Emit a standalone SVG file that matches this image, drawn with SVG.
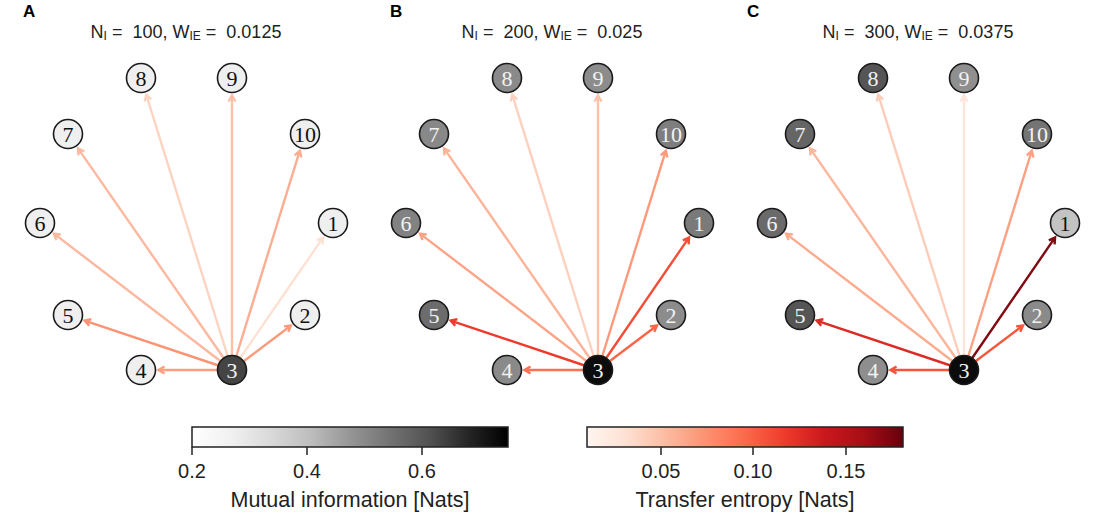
<svg xmlns="http://www.w3.org/2000/svg" width="1107" height="525" viewBox="0 0 1107 525">
<style>
.ttl{font-family:"Liberation Sans",Arial,sans-serif;font-size:18px;fill:#222;}
.pl{font-family:"Liberation Sans",Arial,sans-serif;font-size:17px;font-weight:bold;fill:#000;}
.node circle{stroke:#1a1a1a;stroke-width:1.6;}
.node text{font-family:"Liberation Serif","Times New Roman",serif;font-size:22px;text-anchor:middle;}
.lt text{fill:#111;}
.dk text{fill:#f2f2f2;}
.edges path{fill:none;stroke-width:2.4;stroke-linejoin:miter;}
.cb{font-family:"Liberation Sans",Arial,sans-serif;font-size:20px;fill:#222;text-anchor:middle;}
.cbl{font-family:"Liberation Sans",Arial,sans-serif;font-size:21.5px;fill:#222;text-anchor:middle;}
.tick{stroke:#222;stroke-width:1.5;}
</style>
<defs>
<linearGradient id="greys" x1="0" y1="0" x2="1" y2="0">
<stop offset="0" stop-color="#ffffff"/>
<stop offset="0.125" stop-color="#f0f0f0"/>
<stop offset="0.25" stop-color="#d9d9d9"/>
<stop offset="0.375" stop-color="#bdbdbd"/>
<stop offset="0.5" stop-color="#969696"/>
<stop offset="0.625" stop-color="#737373"/>
<stop offset="0.75" stop-color="#525252"/>
<stop offset="0.875" stop-color="#252525"/>
<stop offset="1" stop-color="#000000"/>
</linearGradient>
<linearGradient id="reds" x1="0" y1="0" x2="1" y2="0">
<stop offset="0" stop-color="#fff5f0"/>
<stop offset="0.125" stop-color="#fee0d2"/>
<stop offset="0.25" stop-color="#fcbba1"/>
<stop offset="0.375" stop-color="#fc9272"/>
<stop offset="0.5" stop-color="#fb6a4a"/>
<stop offset="0.625" stop-color="#ef3b2c"/>
<stop offset="0.75" stop-color="#cb181d"/>
<stop offset="0.875" stop-color="#a50f15"/>
<stop offset="1" stop-color="#67000d"/>
</linearGradient>
</defs>
<rect width="1107" height="525" fill="#ffffff"/>

<!-- Panel A -->
<g id="panelA">
<text class="pl" x="23" y="17">A</text>
<text class="ttl" x="186" y="38" text-anchor="middle">N<tspan font-size="12" dy="2">I</tspan><tspan dy="-2"> =&#160; 100, W</tspan><tspan font-size="12" dy="2">IE</tspan><tspan dy="-2"> =&#160; 0.0125</tspan></text>
<g id="A-edges" class="edges">
<path stroke="#fee1d3" d="M232 370 L323.1 237.4 M322.6 244.4 L323.1 237.4 L316.8 240.4"/>
<path stroke="#fdd4c2" d="M232 370 L146.2 94.7 M151.3 99.4 L146.2 94.7 L144.7 101.5"/>
<path stroke="#fcc0a7" d="M232 370 L232 95.5 M235.5 101.5 L232 95.5 L228.5 101.5"/>
<path stroke="#fcb99f" d="M232 370 L78 148.4 M84.3 151.3 L78 148.4 L78.5 155.3"/>
<path stroke="#fcb89e" d="M232 370 L53.9 233.6 M60.8 234.5 L53.9 233.6 L56.5 240.1"/>
<path stroke="#fcae92" d="M232 370 L299.8 150.7 M301.4 157.5 L299.8 150.7 L294.7 155.4"/>
<path stroke="#fc9b7c" d="M232 370 L291 325.5 M288.3 331.9 L291 325.5 L284.1 326.4"/>
<path stroke="#fc9f81" d="M232 370 L158.5 370 M164.5 366.5 L158.5 370 L164.5 373.5"/>
<path stroke="#fc9373" d="M232 370 L84.6 320.6 M91.4 319.2 L84.6 320.6 L89.2 325.8"/>
</g>
<g id="A-n1" class="node lt"><circle cx="333" cy="223" r="14.5" fill="#efefef"/><text x="333" y="230.5">1</text></g>
<g id="A-n2" class="node lt"><circle cx="305" cy="315" r="14.5" fill="#efefef"/><text x="305" y="322.5">2</text></g>
<g id="A-n3" class="node dk"><circle cx="232" cy="370" r="14.5" fill="#444444"/><text x="232" y="377.5">3</text></g>
<g id="A-n4" class="node lt"><circle cx="141" cy="370" r="14.5" fill="#efefef"/><text x="141" y="377.5">4</text></g>
<g id="A-n5" class="node lt"><circle cx="68" cy="315" r="14.5" fill="#efefef"/><text x="68" y="322.5">5</text></g>
<g id="A-n6" class="node lt"><circle cx="40" cy="223" r="14.5" fill="#efefef"/><text x="40" y="230.5">6</text></g>
<g id="A-n7" class="node lt"><circle cx="68" cy="134" r="14.5" fill="#efefef"/><text x="68" y="141.5">7</text></g>
<g id="A-n8" class="node lt"><circle cx="141" cy="78" r="14.5" fill="#efefef"/><text x="141" y="85.5">8</text></g>
<g id="A-n9" class="node lt"><circle cx="232" cy="78" r="14.5" fill="#efefef"/><text x="232" y="85.5">9</text></g>
<g id="A-n10" class="node lt"><circle cx="305" cy="134" r="14.5" fill="#efefef"/><text x="305" y="141.5">10</text></g>
</g>

<!-- Panel B -->
<text class="pl" x="390" y="17">B</text>
<g id="panelB" transform="translate(366,0)">
<text class="ttl" x="186" y="38" text-anchor="middle">N<tspan font-size="12" dy="2">I</tspan><tspan dy="-2"> =&#160; 200, W</tspan><tspan font-size="12" dy="2">IE</tspan><tspan dy="-2"> =&#160; 0.025</tspan></text>
<g id="B-edges" class="edges">
<path stroke="#fdd1be" d="M232 370 L146.2 94.7 M151.3 99.4 L146.2 94.7 L144.7 101.5"/>
<path stroke="#fcc1a8" d="M232 370 L232 95.5 M235.5 101.5 L232 95.5 L228.5 101.5"/>
<path stroke="#fcb499" d="M232 370 L78 148.4 M84.3 151.3 L78 148.4 L78.5 155.3"/>
<path stroke="#fca487" d="M232 370 L53.9 233.6 M60.8 234.5 L53.9 233.6 L56.5 240.1"/>
<path stroke="#fc9a7b" d="M232 370 L299.8 150.7 M301.4 157.5 L299.8 150.7 L294.7 155.4"/>
<path stroke="#fb7252" d="M232 370 L158.5 370 M164.5 366.5 L158.5 370 L164.5 373.5"/>
<path stroke="#fa6547" d="M232 370 L291 325.5 M288.3 331.9 L291 325.5 L284.1 326.4"/>
<path stroke="#f44e38" d="M232 370 L323.1 237.4 M322.6 244.4 L323.1 237.4 L316.8 240.4"/>
<path stroke="#ee3a2c" d="M232 370 L84.6 320.6 M91.4 319.2 L84.6 320.6 L89.2 325.8"/>
</g>
<g id="B-n1" class="node dk"><circle cx="333" cy="223" r="14.5" fill="#7a7a7a"/><text x="333" y="230.5">1</text></g>
<g id="B-n2" class="node dk"><circle cx="305" cy="315" r="14.5" fill="#8c8c8c"/><text x="305" y="322.5">2</text></g>
<g id="B-n3" class="node dk"><circle cx="232" cy="370" r="14.5" fill="#0c0c0c"/><text x="232" y="377.5">3</text></g>
<g id="B-n4" class="node dk"><circle cx="141" cy="370" r="14.5" fill="#8a8a8a"/><text x="141" y="377.5">4</text></g>
<g id="B-n5" class="node dk"><circle cx="68" cy="315" r="14.5" fill="#6c6c6c"/><text x="68" y="322.5">5</text></g>
<g id="B-n6" class="node dk"><circle cx="40" cy="223" r="14.5" fill="#828282"/><text x="40" y="230.5">6</text></g>
<g id="B-n7" class="node dk"><circle cx="68" cy="134" r="14.5" fill="#888888"/><text x="68" y="141.5">7</text></g>
<g id="B-n8" class="node dk"><circle cx="141" cy="78" r="14.5" fill="#8a8a8a"/><text x="141" y="85.5">8</text></g>
<g id="B-n9" class="node dk"><circle cx="232" cy="78" r="14.5" fill="#8c8c8c"/><text x="232" y="85.5">9</text></g>
<g id="B-n10" class="node dk"><circle cx="305" cy="134" r="14.5" fill="#7e7e7e"/><text x="305" y="141.5">10</text></g>
</g>

<!-- Panel C -->
<text class="pl" x="747" y="17">C</text>
<g id="panelC" transform="translate(732,0)">
<text class="ttl" x="186" y="38" text-anchor="middle">N<tspan font-size="12" dy="2">I</tspan><tspan dy="-2"> =&#160; 300, W</tspan><tspan font-size="12" dy="2">IE</tspan><tspan dy="-2"> =&#160; 0.0375</tspan></text>
<g id="C-edges" class="edges">
<path stroke="#fee5d9" d="M232 370 L232 95.5 M235.5 101.5 L232 95.5 L228.5 101.5"/>
<path stroke="#fdcdb9" d="M232 370 L146.2 94.7 M151.3 99.4 L146.2 94.7 L144.7 101.5"/>
<path stroke="#fcb69b" d="M232 370 L78 148.4 M84.3 151.3 L78 148.4 L78.5 155.3"/>
<path stroke="#fcab8f" d="M232 370 L53.9 233.6 M60.8 234.5 L53.9 233.6 L56.5 240.1"/>
<path stroke="#fca183" d="M232 370 L299.8 150.7 M301.4 157.5 L299.8 150.7 L294.7 155.4"/>
<path stroke="#f5533b" d="M232 370 L158.5 370 M164.5 366.5 L158.5 370 L164.5 373.5"/>
<path stroke="#f6583e" d="M232 370 L291 325.5 M288.3 331.9 L291 325.5 L284.1 326.4"/>
<path stroke="#dd2a25" d="M232 370 L84.6 320.6 M91.4 319.2 L84.6 320.6 L89.2 325.8"/>
<path stroke="#820a12" d="M232 370 L323.1 237.4 M322.6 244.4 L323.1 237.4 L316.8 240.4"/>
</g>
<g id="C-n1" class="node lt"><circle cx="333" cy="223" r="14.5" fill="#c3c3c3"/><text x="333" y="230.5">1</text></g>
<g id="C-n2" class="node dk"><circle cx="305" cy="315" r="14.5" fill="#8a8a8a"/><text x="305" y="322.5">2</text></g>
<g id="C-n3" class="node dk"><circle cx="232" cy="370" r="14.5" fill="#0b0b0b"/><text x="232" y="377.5">3</text></g>
<g id="C-n4" class="node dk"><circle cx="141" cy="370" r="14.5" fill="#8e8e8e"/><text x="141" y="377.5">4</text></g>
<g id="C-n5" class="node dk"><circle cx="68" cy="315" r="14.5" fill="#555555"/><text x="68" y="322.5">5</text></g>
<g id="C-n6" class="node dk"><circle cx="40" cy="223" r="14.5" fill="#6a6a6a"/><text x="40" y="230.5">6</text></g>
<g id="C-n7" class="node dk"><circle cx="68" cy="134" r="14.5" fill="#656565"/><text x="68" y="141.5">7</text></g>
<g id="C-n8" class="node dk"><circle cx="141" cy="78" r="14.5" fill="#555555"/><text x="141" y="85.5">8</text></g>
<g id="C-n9" class="node dk"><circle cx="232" cy="78" r="14.5" fill="#8f8f8f"/><text x="232" y="85.5">9</text></g>
<g id="C-n10" class="node dk"><circle cx="305" cy="134" r="14.5" fill="#747474"/><text x="305" y="141.5">10</text></g>
</g>

<!-- Colorbar: Mutual information -->
<g id="cb-mi">
<rect x="192" y="427" width="316" height="20" fill="url(#greys)" stroke="#222" stroke-width="1.5"/>
<line class="tick" x1="192" y1="447" x2="192" y2="455"/>
<line class="tick" x1="307" y1="447" x2="307" y2="455"/>
<line class="tick" x1="422" y1="447" x2="422" y2="455"/>
<text class="cb" x="192" y="478">0.2</text>
<text class="cb" x="307" y="478">0.4</text>
<text class="cb" x="422" y="478">0.6</text>
<text class="cbl" x="350" y="507">Mutual information [Nats]</text>
</g>

<!-- Colorbar: Transfer entropy -->
<g id="cb-te">
<rect x="587" y="427" width="316" height="20" fill="url(#reds)" stroke="#222" stroke-width="1.5"/>
<line class="tick" x1="661" y1="447" x2="661" y2="455"/>
<line class="tick" x1="753" y1="447" x2="753" y2="455"/>
<line class="tick" x1="846" y1="447" x2="846" y2="455"/>
<text class="cb" x="661" y="478">0.05</text>
<text class="cb" x="753" y="478">0.10</text>
<text class="cb" x="846" y="478">0.15</text>
<text class="cbl" x="745" y="507">Transfer entropy [Nats]</text>
</g>
</svg>
